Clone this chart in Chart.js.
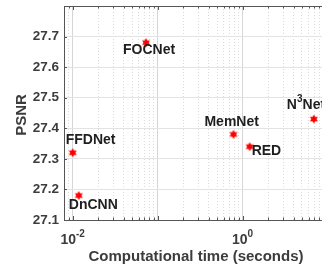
<!DOCTYPE html>
<html>
<head>
<meta charset="utf-8">
<script src="https://cdn.jsdelivr.net/npm/chart.js@4"></script>
<style>
  html, body { margin: 0; padding: 0; background: #fff; overflow: hidden; }
  canvas { display: block; }
</style>
</head>
<body>
<canvas id="psnrChart" width="322" height="266"></canvas>
<script>
// data
const methods = ['FFDNet', 'DnCNN', 'FOCNet', 'MemNet', 'RED', 'N^3Net'];
const timeSec = [0.0100, 0.0118, 0.073, 0.78, 1.21, 6.9];
const psnr = [27.32, 27.18, 27.68, 27.38, 27.34, 27.43];

const xMin = 0.0079;
const xMax = 8.6;
const xLabelTicks = [0.01, 1];
const xLabelText = ['10^{-2}', '10^{0}'];
const yMin = 27.1;
const yMax = 27.8;

const FONT = '"Liberation Sans", Arial, Helvetica, sans-serif';
const AXIS = '#555';
const TEXT = '#3c3c3c';

// wanted plot box (px)
const AREA = { left: 64, right: 322, top: 6, bottom: 220 };

// where each name sits relative to its marker (px)
const labelPlace = {
    'FFDNet': [-7, -13],
    'DnCNN': [-10, 10],
    'FOCNet': [-23, 7],
    'MemNet': [-29, -12],
    'RED': [2, 5],
    'N^3Net': [-27, -13.5]
};

// minor + major positions for the log grid
const xGridTicks = [];
for (let e = -3; e <= 0; e++) {
    for (let m = 1; m <= 9; m++) {
        const v = m * Math.pow(10, e);
        if (v >= xMin && v <= xMax) xGridTicks.push(v);
    }
}

function isDecade(v) {
    const l = Math.log10(v);
    return Math.abs(l - Math.round(l)) < 1e-6;
}

function makeStar(r, color) {
    const c = document.createElement('canvas');
    const s = Math.ceil(r * 2 + 2);
    c.width = c.height = s;
    const g = c.getContext('2d');
    g.fillStyle = color;
    g.beginPath();
    for (let k = 0; k < 12; k++) {
        const a = -Math.PI / 2 + k * Math.PI / 6;
        const rr = k % 2 ? r * 0.56 : r;
        g.lineTo(s / 2 + rr * Math.cos(a), s / 2 + rr * Math.sin(a));
    }
    g.closePath();
    g.fill();
    return c;
}

// "N^3Net", "10^{-2}" -> plain / superscript pieces
function parseRich(s) {
    const segs = [];
    let buf = '';
    let i = 0;
    while (i < s.length) {
        if (s[i] === '^') {
            if (buf) { segs.push({ t: buf, sup: false }); buf = ''; }
            i++;
            let sup;
            if (s[i] === '{') {
                const j = s.indexOf('}', i);
                sup = s.slice(i + 1, j);
                i = j + 1;
            } else {
                sup = s[i];
                i++;
            }
            segs.push({ t: sup, sup: true });
        } else {
            buf += s[i];
            i++;
        }
    }
    if (buf) segs.push({ t: buf, sup: false });
    return segs;
}

function drawRich(ctx, s, x, y, size, align, color) {
    const segs = parseRich(s);
    const fBase = 'bold ' + size + 'px ' + FONT;
    const fSup = 'bold ' + Math.round(size * 0.72) + 'px ' + FONT;
    let w = 0;
    segs.forEach(g => {
        ctx.font = g.sup ? fSup : fBase;
        g.w = ctx.measureText(g.t).width;
        w += g.w;
    });
    let cx = align === 'center' ? x - w / 2 : x;
    ctx.textAlign = 'left';
    ctx.textBaseline = 'middle';
    ctx.fillStyle = color;
    segs.forEach(g => {
        ctx.font = g.sup ? fSup : fBase;
        ctx.fillText(g.t, cx, g.sup ? y - size * 0.42 : y);
        cx += g.w;
    });
}

const decor = {
    id: 'decor',
    afterDraw(chart) {
        const ctx = chart.ctx;
        const area = chart.chartArea;
        const xs = chart.scales.x;
        const ys = chart.scales.y;
        ctx.save();

        // top box line
        ctx.strokeStyle = AXIS;
        ctx.lineWidth = 1;
        ctx.beginPath();
        ctx.moveTo(area.left, area.top + 0.5);
        ctx.lineTo(area.right, area.top + 0.5);
        ctx.stroke();

        // inward ticks
        ctx.beginPath();
        xs.ticks.forEach(t => {
            const px = Math.round(xs.getPixelForValue(t.value)) + 0.5;
            const len = isDecade(t.value) ? 4 : 2.5;
            ctx.moveTo(px, area.top);
            ctx.lineTo(px, area.top + len);
            ctx.moveTo(px, area.bottom);
            ctx.lineTo(px, area.bottom - len);
        });
        ys.ticks.forEach(t => {
            const py = Math.round(ys.getPixelForValue(t.value)) + 0.5;
            ctx.moveTo(area.left, py);
            ctx.lineTo(area.left + 3, py);
        });
        ctx.stroke();

        // x tick labels with exponents
        xLabelTicks.forEach((v, i) => {
            drawRich(ctx, xLabelText[i], xs.getPixelForValue(v), area.bottom + 20, 14, 'center', TEXT);
        });

        // axis titles
        ctx.fillStyle = TEXT;
        ctx.font = 'bold 15px ' + FONT;
        ctx.textAlign = 'center';
        ctx.textBaseline = 'middle';
        ctx.fillText('Computational time (seconds)', 196, 257);
        ctx.translate(21.5, 115);
        ctx.rotate(-Math.PI / 2);
        ctx.fillText('PSNR', 0, 0);
        ctx.restore();

        // method names next to markers
        ctx.save();
        const meta = chart.getDatasetMeta(0);
        meta.data.forEach((pt, i) => {
            const off = labelPlace[methods[i]];
            drawRich(ctx, methods[i], pt.x + off[0], pt.y + off[1], 14, 'left', '#1e1e1e');
        });
        ctx.restore();
    }
};

const chartCtx = document.getElementById('psnrChart').getContext('2d');
const psnrChart = new Chart(chartCtx, {
    type: 'scatter',
    data: {
        datasets: [{
            data: methods.map((m, i) => ({ x: timeSec[i], y: psnr[i] })),
            pointStyle: makeStar(4.6, '#ff0000'),
            pointRadius: 5,
            pointHoverRadius: 5,
            backgroundColor: '#ff0000',
            borderColor: '#ff0000',
            clip: false
        }]
    },
    options: {
        responsive: false,
        animation: false,
        devicePixelRatio: 1,
        layout: {
            autoPadding: false,
            padding: { top: AREA.top, right: 0, left: 0, bottom: 0 }
        },
        plugins: {
            legend: { display: false },
            tooltip: { enabled: false }
        },
        scales: {
            x: {
                type: 'logarithmic',
                min: xMin,
                max: xMax,
                afterBuildTicks: scale => {
                    scale.ticks = xGridTicks.map(v => ({ value: v, major: isDecade(v) }));
                },
                afterFit: scale => {
                    scale.height = 266 - AREA.bottom;
                    scale.paddingLeft = 0;
                    scale.paddingRight = 0;
                },
                ticks: { display: false },
                grid: {
                    color: ctx => (ctx.tick && isDecade(ctx.tick.value)) ? '#d6d6d6' : '#dcdcdc',
                    lineWidth: 1,
                    drawTicks: false
                },
                border: {
                    color: AXIS,
                    width: 1,
                    dash: ctx => (ctx.tick && isDecade(ctx.tick.value)) ? [] : [1, 2]
                }
            },
            y: {
                min: yMin,
                max: yMax,
                afterFit: scale => {
                    scale.width = AREA.left;
                    scale.paddingTop = 0;
                    scale.paddingBottom = 0;
                },
                ticks: {
                    stepSize: 0.1,
                    autoSkip: false,
                    padding: 5,
                    color: TEXT,
                    font: { family: FONT, size: 13.5, weight: 'bold' },
                    callback: v => v > 27.75 ? '' : Number(v).toFixed(1)
                },
                grid: { color: '#e3e3e3', lineWidth: 1, drawTicks: false },
                border: { color: AXIS, width: 1 }
            }
        }
    },
    plugins: [decor]
});
</script>
</body>
</html>
